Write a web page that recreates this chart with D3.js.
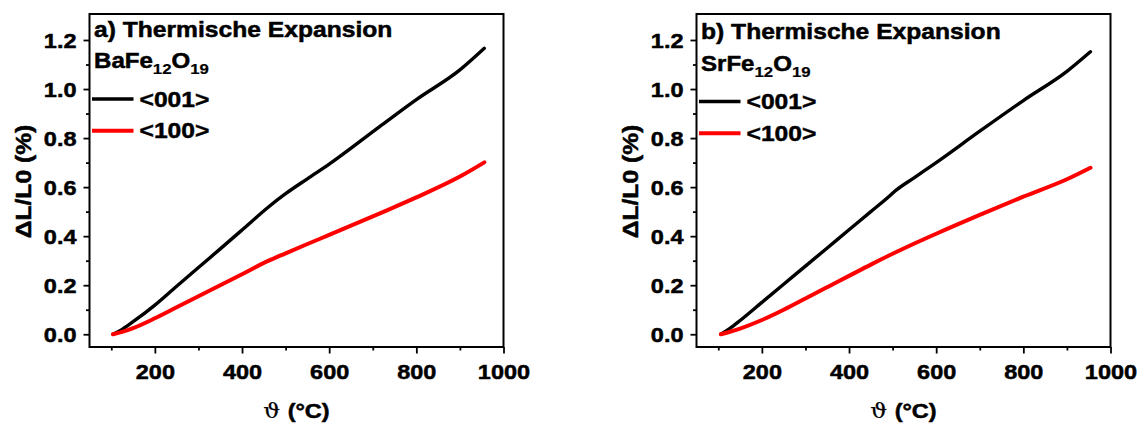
<!DOCTYPE html>
<html>
<head>
<meta charset="utf-8">
<script src="https://cdn.jsdelivr.net/npm/d3@7"></script>
<style>
  html, body { margin: 0; padding: 0; background: #fff; }
  svg { display: block; }
  text { font-family: "Liberation Sans", Arial, "DejaVu Sans", sans-serif; font-weight: bold; fill: #000;
         stroke: #000; stroke-width: 0.5px; stroke-linejoin: round; }
</style>
</head>
<body>
<svg id="chart" width="1143" height="423"></svg>
<script>
// ---- Data ----
const panelTitles = ["a) Thermische Expansion", "b) Thermische Expansion"];
const compoundBase = ["Ba", "Sr"];
const seriesNames = ["<001>", "<100>"];
const seriesColors = ["#000000", "#ff0000"];

// Panel a: BaFe12O19
const tempA001 = [104, 125, 150, 200, 250, 300, 350, 400, 460, 500, 550, 600, 715, 800, 900, 956];
const valA001  = [0.0, 0.020, 0.051, 0.119, 0.196, 0.272, 0.348, 0.425, 0.518, 0.573, 0.634, 0.694, 0.846, 0.957, 1.078, 1.166];
const tempA100 = [104, 125, 150, 200, 250, 300, 350, 400, 460, 500, 550, 600, 715, 800, 900, 956];
const valA100  = [0.0, 0.010, 0.025, 0.065, 0.110, 0.155, 0.200, 0.245, 0.299, 0.330, 0.368, 0.405, 0.492, 0.558, 0.643, 0.701];

// Panel b: SrFe12O19
const tempB001 = [106, 125, 150, 200, 250, 300, 350, 400, 450, 495, 505, 550, 600, 700, 800, 900, 954];
const valB001  = [0.0, 0.022, 0.056, 0.130, 0.204, 0.278, 0.352, 0.426, 0.500, 0.567, 0.583, 0.639, 0.700, 0.828, 0.953, 1.072, 1.152];
const tempB100 = [106, 125, 150, 200, 250, 300, 350, 400, 450, 500, 550, 600, 700, 800, 900, 954];
const valB100  = [0.0, 0.009, 0.023, 0.058, 0.100, 0.146, 0.192, 0.238, 0.284, 0.328, 0.370, 0.410, 0.487, 0.561, 0.632, 0.679];

const xMajorTicks = [200, 400, 600, 800, 1000];
const xMinorTicks = [100, 300, 500, 700, 900];
const yMajorTicks = [0.0, 0.2, 0.4, 0.6, 0.8, 1.0, 1.2];
const yMinorTicks = [0.1, 0.3, 0.5, 0.7, 0.9, 1.1];

const xLabel = "(°C)";
const yLabel = "ΔL/L0 (%)";

// ---- Layout ----
const SX = 1.12; // horizontal text stretch seen in the reference
const svg = d3.select("#chart");
svg.append("rect").attr("width", 1143).attr("height", 423).attr("fill", "#fff");

const panels = [
  { x0: 89.5, x1: 503.5, dy: 0, title: panelTitles[0], base: compoundBase[0],
    series: [[tempA001, valA001], [tempA100, valA100]] },
  { x0: 696.5, x1: 1110.5, dy: 2.5, title: panelTitles[1], base: compoundBase[1],
    series: [[tempB001, valB001], [tempB100, valB100]] }
];
const plotTop = 14, plotBottom = 347;

panels.forEach(p => {
  const x = d3.scaleLinear().domain([50, 1000]).range([p.x0, p.x1]);
  const y = d3.scaleLinear().domain([-0.052, 1.306]).range([plotBottom, plotTop]);
  const g = svg.append("g");

  // axes
  const xAx = g.append("g").attr("transform", `translate(0,${plotBottom})`)
    .call(d3.axisBottom(x).tickValues(xMajorTicks).tickSize(6.5).tickFormat(d3.format("d")));
  const xMin = g.append("g").attr("transform", `translate(0,${plotBottom})`)
    .call(d3.axisBottom(x).tickValues(xMinorTicks).tickSize(3.5).tickFormat(""));
  const yAx = g.append("g").attr("transform", `translate(${p.x0},0)`)
    .call(d3.axisLeft(y).tickValues(yMajorTicks).tickSize(6).tickFormat(d3.format(".1f")));
  const yMin = g.append("g").attr("transform", `translate(${p.x0},0)`)
    .call(d3.axisLeft(y).tickValues(yMinorTicks).tickSize(3.5).tickFormat(""));
  [xAx, xMin, yAx, yMin].forEach(a => {
    a.select(".domain").remove();
    a.selectAll("line").attr("stroke", "#000").attr("stroke-width", 1.8);
    a.attr("font-family", null).attr("font-size", null);
  });
  xAx.selectAll("text")
    .attr("x", 0).attr("y", 0).attr("dy", null)
    .attr("transform", `translate(0,32) scale(${SX},1)`)
    .attr("text-anchor", "middle").attr("fill", "#000")
    .style("font-size", "21px");
  yAx.selectAll("text")
    .attr("x", 0).attr("dy", "0.36em")
    .attr("transform", `translate(-13,0) scale(${SX},1)`)
    .attr("text-anchor", "end").attr("fill", "#000")
    .style("font-size", "21px");

  // frame
  g.append("rect").attr("x", p.x0).attr("y", plotTop)
    .attr("width", p.x1 - p.x0).attr("height", plotBottom - plotTop)
    .attr("fill", "none").attr("stroke", "#000").attr("stroke-width", 2);

  // lines
  const line = d3.line().curve(d3.curveMonotoneX).x(d => x(d[0])).y(d => y(d[1]));
  p.series.forEach((s, i) => {
    const pts = s[0].map((t, k) => [t, s[1][k]]);
    g.append("path").datum(pts).attr("d", line)
      .attr("fill", "none").attr("stroke", seriesColors[i])
      .attr("stroke-width", i === 0 ? 3.4 : 4)
      .attr("stroke-linecap", "round").attr("stroke-linejoin", "round");
  });

  // title
  g.append("text").attr("transform", `translate(${p.x0 + 4.5},${36.7 + p.dy}) scale(${SX},1)`)
    .style("font-size", "22px").text(p.title);
  // compound
  const c = g.append("text").attr("transform", `translate(${p.x0 + 4.5},${68.3 + p.dy}) scale(${SX},1)`)
    .style("font-size", "21.5px");
  c.append("tspan").text(p.base + "Fe");
  c.append("tspan").attr("dy", 6).style("font-size", "15px").style("stroke-width", "0.2px").text("12");
  c.append("tspan").attr("dy", -6).text("O");
  c.append("tspan").attr("dy", 6).style("font-size", "15px").style("stroke-width", "0.2px").text("19");

  // legend
  seriesNames.forEach((name, i) => {
    const ly = (i === 0 ? 99 : 130.7) + p.dy;
    g.append("line").attr("x1", p.x0 + 2.5).attr("x2", p.x0 + 44)
      .attr("y1", ly).attr("y2", ly)
      .attr("stroke", seriesColors[i]).attr("stroke-width", i === 0 ? 3.4 : 4);
    g.append("text").attr("transform", `translate(${p.x0 + 50},${ly + 7.7}) scale(${SX},1)`)
      .style("font-size", "22px").text(name);
  });

  // x label
  const xl = g.append("text")
    .attr("transform", `translate(${(p.x0 + p.x1) / 2},418) scale(${SX},1)`)
    .attr("text-anchor", "middle").style("font-size", "21px");
  xl.append("tspan").style("font-weight", "normal").style("stroke-width", "0.2px")
    .style("font-family", "'DejaVu Serif', 'Liberation Serif', serif").text("ϑ ");
  xl.append("tspan").text(xLabel);

  // y label
  g.append("text")
    .attr("transform", `translate(${p.x0 - 58.5},${(plotTop + plotBottom) / 2 + 1}) rotate(-90) scale(${SX},1)`)
    .attr("text-anchor", "middle").style("font-size", "22px").text(yLabel);
});
</script>
</body>
</html>
